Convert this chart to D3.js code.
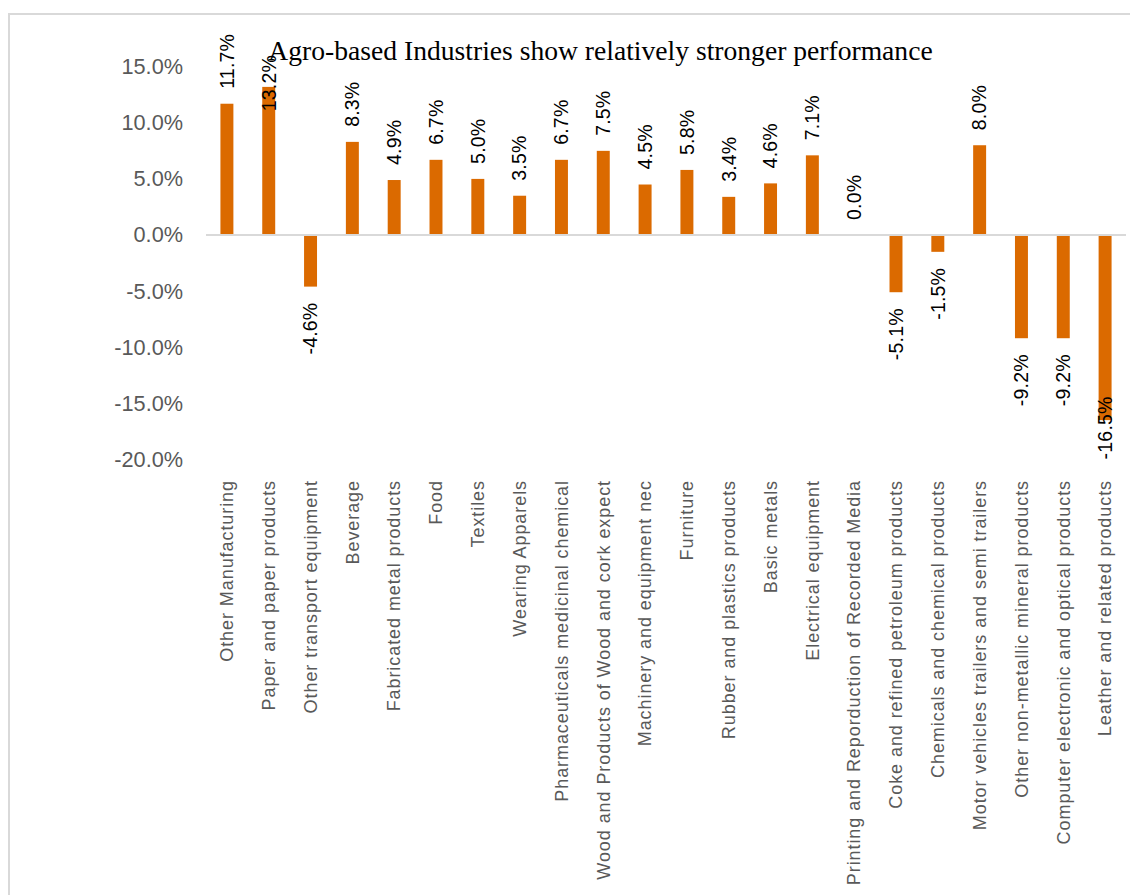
<!DOCTYPE html>
<html>
<head>
<meta charset="utf-8">
<script src="https://cdn.jsdelivr.net/npm/d3@7"></script>
<style>
  html, body { margin: 0; padding: 0; background: #fff; }
  svg { display: block; }
</style>
</head>
<body>
<svg id="chart" width="1130" height="895"></svg>
<script>
const titleText = "Agro-based Industries show relatively stronger performance";
const categories = [
  "Other Manufacturing",
  "Paper and paper products",
  "Other transport equipment",
  "Beverage",
  "Fabricated metal products",
  "Food",
  "Textiles",
  "Wearing Apparels",
  "Pharmaceuticals medicinal chemical",
  "Wood and Products of Wood and cork expect",
  "Machinery and equipment nec",
  "Furniture",
  "Rubber and plastics products",
  "Basic metals",
  "Electrical equipment",
  "Printing and Reporduction of Recorded Media",
  "Coke and refined petroleum products",
  "Chemicals and chemical products",
  "Motor vehicles trailers and semi trailers",
  "Other non-metallic mineral products",
  "Computer electronic and optical products",
  "Leather and related products"
];
const values = [11.7, 13.2, -4.6, 8.3, 4.9, 6.7, 5.0, 3.5, 6.7, 7.5, 4.5, 5.8, 3.4, 4.6, 7.1, 0.0, -5.1, -1.5, 8.0, -9.2, -9.2, -16.5];
const yTicks = [15, 10, 5, 0, -5, -10, -15, -20];

const svg = d3.select("#chart");

// chart frame
svg.append("rect")
  .attr("x", 9).attr("y", 14)
  .attr("width", 1200).attr("height", 1000)
  .attr("fill", "none").attr("stroke", "#d9d9d9").attr("stroke-width", 2);

const plot = { left: 206, right: 1126, top: 55, bottom: 459.4 };

const x = d3.scaleBand().domain(categories).range([plot.left, plot.right]).paddingInner(0.69).paddingOuter(0.345);
const y = d3.scaleLinear().domain([-20, 15]).range([459.4, 66.7]);

// y axis labels
const yAxis = d3.axisLeft(y).tickValues(yTicks).tickSize(0).tickPadding(0)
  .tickFormat(d => d.toFixed(1) + "%");
const gy = svg.append("g").attr("transform", "translate(183,0)").call(yAxis);
gy.select(".domain").remove();
gy.selectAll("text")
  .attr("font-family", "'Liberation Sans', Arial, sans-serif")
  .attr("font-size", 21.7).attr("fill", "#595959");

// bars
svg.append("g").selectAll("rect").data(values).join("rect")
  .attr("x", (d, i) => x(categories[i]))
  .attr("width", x.bandwidth())
  .attr("y", d => y(Math.max(0, d)))
  .attr("height", d => Math.abs(y(d) - y(0)))
  .attr("fill", "#DB6A00");

// zero line
svg.append("line")
  .attr("x1", plot.left).attr("x2", plot.right)
  .attr("y1", y(0)).attr("y2", y(0))
  .attr("stroke", "#d9d9d9").attr("stroke-width", 2);

// value labels
const lbl = svg.append("g").selectAll("text").data(values).join("text")
  .attr("font-family", "'Liberation Sans', Arial, sans-serif")
  .attr("font-size", 19.5).attr("letter-spacing", 0.2)
  .attr("fill", "#000")
  .attr("dy", "0.35em")
  .text(d => d.toFixed(1) + "%");
lbl.each(function(d, i) {
  const el = d3.select(this);
  const len = this.getComputedTextLength();
  const cx = x(categories[i]) + x.bandwidth() / 2;
  if (d >= 0) {
    let base = y(d) - 15;            // bottom end of label
    if (base - len < 30) base = plot.top + len;   // snap into plot area
    el.attr("text-anchor", "start")
      .attr("transform", `translate(${cx},${base}) rotate(-90)`);
  } else {
    let top = y(d) + 16;
    if (top + len > 470) top = plot.bottom - len;
    el.attr("text-anchor", "end")
      .attr("transform", `translate(${cx},${top}) rotate(-90)`);
  }
});

// category labels
svg.append("g").selectAll("text").data(categories).join("text")
  .attr("font-family", "'Liberation Sans', Arial, sans-serif")
  .attr("font-size", 18).attr("letter-spacing", 0.93)
  .attr("fill", "#595959")
  .attr("text-anchor", "end")
  .attr("dy", "0.35em")
  .attr("transform", d => `translate(${x(d) + x.bandwidth() / 2},480) rotate(-90)`)
  .text(d => d);

// title
svg.append("text")
  .attr("x", 600.5).attr("y", 60)
  .attr("text-anchor", "middle")
  .attr("font-family", "'Liberation Serif', 'Times New Roman', serif")
  .attr("font-size", 27.6).attr("fill", "#000")
  .text(titleText);
</script>
</body>
</html>
